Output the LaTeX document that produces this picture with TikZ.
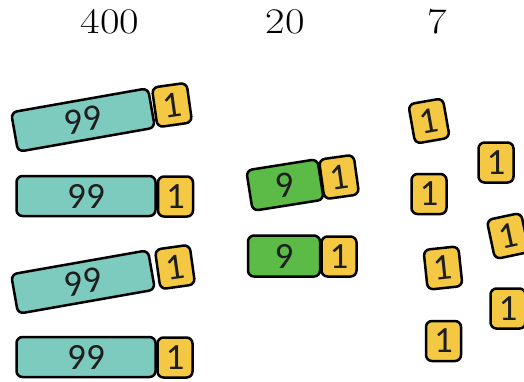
\documentclass[tikz,border=0pt]{standalone}
\usepackage{fontspec}
\newfontfamily\boxfont{Carlito}
\definecolor{tealbar}{HTML}{7DCBBF}
\definecolor{greenbar}{HTML}{5CBA47}
\definecolor{unityel}{HTML}{F5C843}
\definecolor{inktext}{HTML}{1E1E1E}
\begin{document}
\begin{tikzpicture}[x=1pt,y=-1pt,
  blk/.style={draw=black,line width=2.5pt,rounded corners=6pt,inner sep=0pt,
    text=inktext,font=\boxfont\fontsize{37}{37}\selectfont},
  hund/.style={blk,fill=tealbar,minimum width=139pt,minimum height=40pt},
  tens/.style={blk,fill=greenbar,minimum width=72pt,minimum height=41pt},
  unit/.style={blk,fill=unityel,minimum width=35pt,minimum height=40pt},
  head/.style={inner sep=0pt,anchor=base,font=\fontsize{36}{36}\selectfont}]
\clip (0,0) rectangle (524,381);
\fill[white] (0,0) rectangle (524,381);
% headings
\node[head] (h400) at (110,33) {\scalebox{1.18}[1]{400}};
\node[head] (h20) at (285,33) {\scalebox{1.18}[1]{20}};
\node[head] (h7) at (437,33) {\scalebox{1.18}[1]{7}};
% hundreds
\node[hund,rotate=10] (t1) at (83,120) {99};
\node[unit,rotate=8] (u1) at (172,105) {1};
\node[hund] (t2) at (86,196) {99};
\node[unit] (u2) at (175.5,196.5) {1};
\node[hund,rotate=10] (t3) at (83,282) {99};
\node[unit,rotate=8] (u3) at (175,267) {1};
\node[hund] (t4) at (86,357) {99};
\node[unit] (u4) at (175,357.5) {1};
% tens
\node[tens,rotate=9] (g1) at (285,185) {9};
\node[unit,rotate=8] (v1) at (339,177) {1};
\node[tens] (g2) at (284,256) {9};
\node[unit] (v2) at (339,256.5) {1};
% ones
\node[unit,rotate=10] (o1) at (429,121) {1};
\node[unit] (o2) at (496,162.5) {1};
\node[unit] (o3) at (429,194) {1};
\node[unit,rotate=12] (o4) at (508,236) {1};
\node[unit,rotate=6] (o5) at (443,268) {1};
\node[unit] (o6) at (508,308.5) {1};
\node[unit] (o7) at (443.5,341) {1};
\end{tikzpicture}
\end{document}
